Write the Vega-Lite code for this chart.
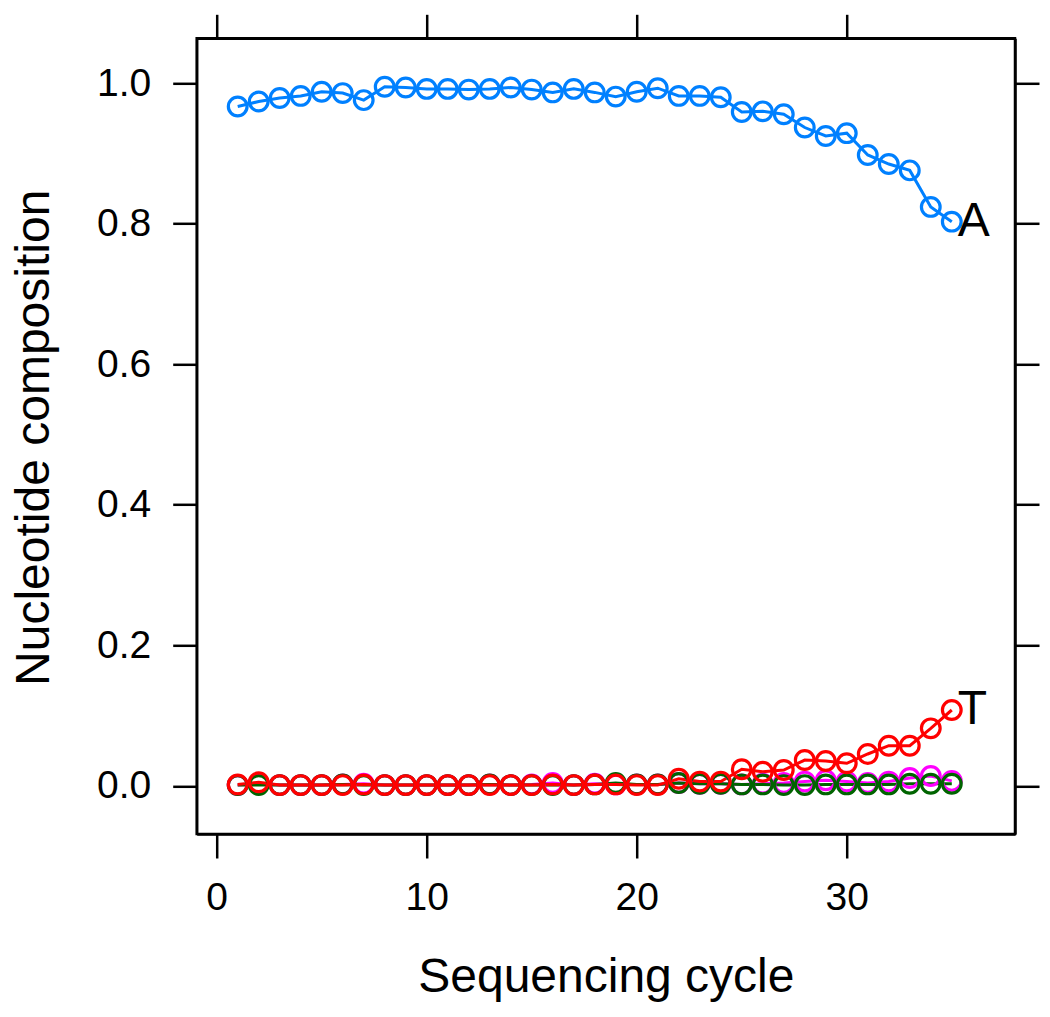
{
  "$schema": "https://vega.github.io/schema/vega-lite/v6.json",
  "autosize": {"type": "none"},
  "padding": {"left": 196.7, "top": 38.3, "right": 35, "bottom": 183},
  "width": 818.3,
  "height": 795.7,
  "background": "white",
  "config": {
    "view": {"stroke": "black", "strokeWidth": 2.5},
    "font": "Liberation Sans",
    "axis": {
      "grid": false,
      "domainColor": "black",
      "domainWidth": 2.5,
      "tickColor": "black",
      "tickWidth": 2.5,
      "tickSize": 24,
      "labelFont": "Liberation Sans",
      "labelFontSize": 39,
      "labelColor": "black",
      "titleFont": "Liberation Sans",
      "titleFontSize": 48,
      "titleFontWeight": "normal",
      "titleColor": "black"
    }
  },
  "data": {
    "values": [
      {"cycle": 1, "base": "A", "value": 0.967}, {"cycle": 2, "base": "A", "value": 0.974}, {"cycle": 3, "base": "A", "value": 0.979}, {"cycle": 4, "base": "A", "value": 0.982}, {"cycle": 5, "base": "A", "value": 0.988},
      {"cycle": 6, "base": "A", "value": 0.986}, {"cycle": 7, "base": "A", "value": 0.976}, {"cycle": 8, "base": "A", "value": 0.995}, {"cycle": 9, "base": "A", "value": 0.994}, {"cycle": 10, "base": "A", "value": 0.992},
      {"cycle": 11, "base": "A", "value": 0.992}, {"cycle": 12, "base": "A", "value": 0.991}, {"cycle": 13, "base": "A", "value": 0.992}, {"cycle": 14, "base": "A", "value": 0.994}, {"cycle": 15, "base": "A", "value": 0.991},
      {"cycle": 16, "base": "A", "value": 0.987}, {"cycle": 17, "base": "A", "value": 0.992}, {"cycle": 18, "base": "A", "value": 0.987}, {"cycle": 19, "base": "A", "value": 0.981}, {"cycle": 20, "base": "A", "value": 0.988},
      {"cycle": 21, "base": "A", "value": 0.993}, {"cycle": 22, "base": "A", "value": 0.982}, {"cycle": 23, "base": "A", "value": 0.982}, {"cycle": 24, "base": "A", "value": 0.980}, {"cycle": 25, "base": "A", "value": 0.959},
      {"cycle": 26, "base": "A", "value": 0.960}, {"cycle": 27, "base": "A", "value": 0.956}, {"cycle": 28, "base": "A", "value": 0.937}, {"cycle": 29, "base": "A", "value": 0.925}, {"cycle": 30, "base": "A", "value": 0.929},
      {"cycle": 31, "base": "A", "value": 0.898}, {"cycle": 32, "base": "A", "value": 0.885}, {"cycle": 33, "base": "A", "value": 0.876}, {"cycle": 34, "base": "A", "value": 0.824}, {"cycle": 35, "base": "A", "value": 0.803},

      {"cycle": 1, "base": "C", "value": 0.001}, {"cycle": 2, "base": "C", "value": 0.003}, {"cycle": 3, "base": "C", "value": 0.001}, {"cycle": 4, "base": "C", "value": 0.001}, {"cycle": 5, "base": "C", "value": 0.001},
      {"cycle": 6, "base": "C", "value": 0.002}, {"cycle": 7, "base": "C", "value": 0.003}, {"cycle": 8, "base": "C", "value": 0.001}, {"cycle": 9, "base": "C", "value": 0.001}, {"cycle": 10, "base": "C", "value": 0.001},
      {"cycle": 11, "base": "C", "value": 0.001}, {"cycle": 12, "base": "C", "value": 0.001}, {"cycle": 13, "base": "C", "value": 0.002}, {"cycle": 14, "base": "C", "value": 0.001}, {"cycle": 15, "base": "C", "value": 0.002},
      {"cycle": 16, "base": "C", "value": 0.004}, {"cycle": 17, "base": "C", "value": 0.001}, {"cycle": 18, "base": "C", "value": 0.003}, {"cycle": 19, "base": "C", "value": 0.002}, {"cycle": 20, "base": "C", "value": 0.002},
      {"cycle": 21, "base": "C", "value": 0.002}, {"cycle": 22, "base": "C", "value": 0.004}, {"cycle": 23, "base": "C", "value": 0.003}, {"cycle": 24, "base": "C", "value": 0.003}, {"cycle": 25, "base": "C", "value": 0.002},
      {"cycle": 26, "base": "C", "value": 0.003}, {"cycle": 27, "base": "C", "value": 0.004}, {"cycle": 28, "base": "C", "value": 0.006}, {"cycle": 29, "base": "C", "value": 0.008}, {"cycle": 30, "base": "C", "value": 0.006},
      {"cycle": 31, "base": "C", "value": 0.004}, {"cycle": 32, "base": "C", "value": 0.006}, {"cycle": 33, "base": "C", "value": 0.011}, {"cycle": 34, "base": "C", "value": 0.014}, {"cycle": 35, "base": "C", "value": 0.007},

      {"cycle": 1, "base": "G", "value": 0.001}, {"cycle": 2, "base": "G", "value": 0.001}, {"cycle": 3, "base": "G", "value": 0.001}, {"cycle": 4, "base": "G", "value": 0.001}, {"cycle": 5, "base": "G", "value": 0.001},
      {"cycle": 6, "base": "G", "value": 0.002}, {"cycle": 7, "base": "G", "value": 0.001}, {"cycle": 8, "base": "G", "value": 0.001}, {"cycle": 9, "base": "G", "value": 0.001}, {"cycle": 10, "base": "G", "value": 0.001},
      {"cycle": 11, "base": "G", "value": 0.001}, {"cycle": 12, "base": "G", "value": 0.001}, {"cycle": 13, "base": "G", "value": 0.002}, {"cycle": 14, "base": "G", "value": 0.001}, {"cycle": 15, "base": "G", "value": 0.001},
      {"cycle": 16, "base": "G", "value": 0.001}, {"cycle": 17, "base": "G", "value": 0.001}, {"cycle": 18, "base": "G", "value": 0.002}, {"cycle": 19, "base": "G", "value": 0.004}, {"cycle": 20, "base": "G", "value": 0.002},
      {"cycle": 21, "base": "G", "value": 0.002}, {"cycle": 22, "base": "G", "value": 0.004}, {"cycle": 23, "base": "G", "value": 0.003}, {"cycle": 24, "base": "G", "value": 0.003}, {"cycle": 25, "base": "G", "value": 0.002},
      {"cycle": 26, "base": "G", "value": 0.002}, {"cycle": 27, "base": "G", "value": 0.001}, {"cycle": 28, "base": "G", "value": 0.001}, {"cycle": 29, "base": "G", "value": 0.002}, {"cycle": 30, "base": "G", "value": 0.002},
      {"cycle": 31, "base": "G", "value": 0.002}, {"cycle": 32, "base": "G", "value": 0.002}, {"cycle": 33, "base": "G", "value": 0.003}, {"cycle": 34, "base": "G", "value": 0.003}, {"cycle": 35, "base": "G", "value": 0.003},

      {"cycle": 1, "base": "T", "value": 0.002}, {"cycle": 2, "base": "T", "value": 0.005}, {"cycle": 3, "base": "T", "value": 0.001}, {"cycle": 4, "base": "T", "value": 0.001}, {"cycle": 5, "base": "T", "value": 0.001},
      {"cycle": 6, "base": "T", "value": 0.001}, {"cycle": 7, "base": "T", "value": 0.002}, {"cycle": 8, "base": "T", "value": 0.001}, {"cycle": 9, "base": "T", "value": 0.001}, {"cycle": 10, "base": "T", "value": 0.001},
      {"cycle": 11, "base": "T", "value": 0.001}, {"cycle": 12, "base": "T", "value": 0.001}, {"cycle": 13, "base": "T", "value": 0.001}, {"cycle": 14, "base": "T", "value": 0.001}, {"cycle": 15, "base": "T", "value": 0.001},
      {"cycle": 16, "base": "T", "value": 0.002}, {"cycle": 17, "base": "T", "value": 0.001}, {"cycle": 18, "base": "T", "value": 0.002}, {"cycle": 19, "base": "T", "value": 0.002}, {"cycle": 20, "base": "T", "value": 0.001},
      {"cycle": 21, "base": "T", "value": 0.001}, {"cycle": 22, "base": "T", "value": 0.010}, {"cycle": 23, "base": "T", "value": 0.006}, {"cycle": 24, "base": "T", "value": 0.006}, {"cycle": 25, "base": "T", "value": 0.0235},
      {"cycle": 26, "base": "T", "value": 0.020}, {"cycle": 27, "base": "T", "value": 0.0225}, {"cycle": 28, "base": "T", "value": 0.0367}, {"cycle": 29, "base": "T", "value": 0.0353}, {"cycle": 30, "base": "T", "value": 0.032},
      {"cycle": 31, "base": "T", "value": 0.0453}, {"cycle": 32, "base": "T", "value": 0.0571}, {"cycle": 33, "base": "T", "value": 0.0571}, {"cycle": 34, "base": "T", "value": 0.0818}, {"cycle": 35, "base": "T", "value": 0.1079}
    ]
  },
  "resolve": {"axis": {"x": "independent", "y": "independent"}},
  "layer": [
    {
      "mark": {"type": "line", "strokeWidth": 3, "clip": true},
      "encoding": {
        "x": {"field": "cycle", "type": "quantitative",
              "scale": {"domain": [-0.952, 38.01], "nice": false, "zero": false},
              "axis": {"orient": "bottom", "values": [0, 10, 20, 30], "format": "d", "labelPadding": 20, "labelFlush": false, "labelOverlap": false,
                       "title": "Sequencing cycle", "titleX": 409.15, "titleY": 157.7, "titleBaseline": "alphabetic", "titleAlign": "center"}},
        "y": {"field": "value", "type": "quantitative",
              "scale": {"domain": [-0.0686, 1.064], "nice": false, "zero": false},
              "axis": {"orient": "left", "values": [0, 0.2, 0.4, 0.6, 0.8, 1.0], "format": ".1f", "labelPadding": 22, "labelFlush": false, "labelOverlap": false,
                       "title": "Nucleotide composition", "titleX": -148.5, "titleY": 399, "titleAngle": -90, "titleBaseline": "alphabetic", "titleAlign": "center"}},
        "color": {"field": "base", "type": "nominal",
                  "scale": {"domain": ["A", "C", "G", "T"], "range": ["#0080ff", "#ff00ff", "#006400", "#ff0000"]},
                  "legend": null},
        "detail": {"field": "base"}
      }
    },
    {
      "mark": {"type": "point", "shape": "circle", "filled": false, "size": 350, "strokeWidth": 3.2, "opacity": 1},
      "encoding": {
        "x": {"field": "cycle", "type": "quantitative",
              "axis": {"orient": "top", "values": [0, 10, 20, 30], "labels": false, "title": null}},
        "y": {"field": "value", "type": "quantitative",
              "axis": {"orient": "right", "values": [0, 0.2, 0.4, 0.6, 0.8, 1.0], "labels": false, "title": null}},
        "color": {"field": "base", "type": "nominal", "legend": null}
      }
    },
    {
      "transform": [{"filter": "datum.cycle == 35 && (datum.base == 'A' || datum.base == 'T')"}],
      "mark": {"type": "text", "align": "left", "baseline": "middle", "dx": 6, "fontSize": 48, "font": "Liberation Sans", "color": "black"},
      "encoding": {
        "x": {"field": "cycle", "type": "quantitative", "axis": null},
        "y": {"field": "value", "type": "quantitative", "axis": null},
        "text": {"field": "base"}
      }
    }
  ]
}
